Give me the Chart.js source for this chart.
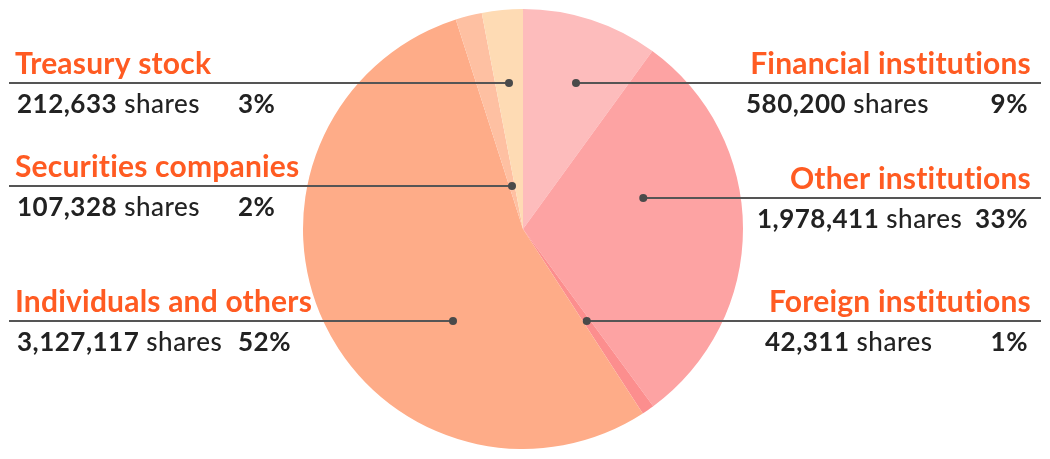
<!DOCTYPE html>
<html>
<head>
<meta charset="utf-8">
<script src="https://cdn.jsdelivr.net/npm/chart.js@4.4.3/dist/chart.umd.min.js"></script>
<style>
  html, body { margin: 0; padding: 0; background: #fff; }
  #wrap { width: 1050px; height: 459px; position: relative; }
</style>
</head>
<body>
<div id="wrap"><canvas id="pie"></canvas></div>
<script>
// shareholder groups, in drawing order (clockwise from 12 o'clock)
const categories = ['Financial institutions', 'Other institutions', 'Foreign institutions', 'Individuals and others', 'Securities companies', 'Treasury stock'];
const shares = [580200, 1978411, 42311, 3127117, 107328, 212633];
const sharePercents = [9, 33, 1, 52, 2, 3];
// slice sizes as drawn in the picture (percent of the circle)
const sliceValues = [10.0, 29.9, 0.92, 54.2, 1.94, 3.0];
const sliceColors = ['#FDBCBC', '#FDA3A3', '#FC8E8E', '#FEAC88', '#FEC0A2', '#FEDBB4'];

// label placement, one entry per category
const labelLayout = [
  { side: 'right', lineY: 83, sharesX: 746 },
  { side: 'right', lineY: 198, sharesX: 757 },
  { side: 'right', lineY: 321, sharesX: 765 },
  { side: 'left', lineY: 321 },
  { side: 'left', lineY: 186 },
  { side: 'left', lineY: 83 }
];

const TITLE_COLOR = '#FF5B22';
const TEXT_COLOR = '#222222';
const LINE_COLOR = '#555555';
const FONT = 'Lato, "Noto Sans", sans-serif';

// middle of the slice's chord along a horizontal line
function chordMid(arc, y) {
  const p = arc.getProps(['x', 'y', 'startAngle', 'endAngle', 'outerRadius'], true);
  const dy = y - p.y;
  let lo = null, hi = null;
  for (let x = p.x - p.outerRadius; x <= p.x + p.outerRadius; x += 0.5) {
    const dx = x - p.x;
    if (dx * dx + dy * dy > p.outerRadius * p.outerRadius) continue;
    let a = Math.atan2(dy, dx);
    while (a < p.startAngle) a += Math.PI * 2;
    while (a >= p.startAngle + Math.PI * 2) a -= Math.PI * 2;
    if (a <= p.endAngle) {
      if (lo === null) lo = x;
      hi = x;
    }
  }
  return lo === null ? p.x : (lo + hi) / 2;
}

const labelPlugin = {
  id: 'leaderLabels',
  afterDatasetsDraw(chart) {
    const ctx = chart.ctx;
    const arcs = chart.getDatasetMeta(0).data;
    ctx.save();
    categories.forEach((name, i) => {
      const lay = labelLayout[i];
      const y = lay.lineY;
      const dotX = chordMid(arcs[i], y);
      const left = lay.side === 'left';

      // leader line + dot
      ctx.strokeStyle = LINE_COLOR;
      ctx.lineWidth = 2;
      ctx.beginPath();
      ctx.moveTo(left ? 9 : dotX, y);
      ctx.lineTo(left ? dotX : 1041, y);
      ctx.stroke();
      ctx.fillStyle = '#4A4A4A';
      ctx.beginPath();
      ctx.arc(dotX, y, 4, 0, Math.PI * 2);
      ctx.fill();

      // title
      ctx.textBaseline = 'alphabetic';
      ctx.fillStyle = TITLE_COLOR;
      ctx.font = 'bold 30px ' + FONT;
      ctx.letterSpacing = '0.2px';
      ctx.textAlign = left ? 'left' : 'right';
      ctx.fillText(name, left ? 15 : 1031, y - 9);

      // shares row
      const rowY = y + 30;
      const num = shares[i].toLocaleString('en-US');
      const sx = left ? 17 : lay.sharesX;
      ctx.textAlign = 'left';
      ctx.fillStyle = TEXT_COLOR;
      ctx.letterSpacing = '0.5px';
      ctx.font = 'bold 26px ' + FONT;
      ctx.fillText(num, sx, rowY);
      const w = ctx.measureText(num).width;
      ctx.font = '500 26px ' + FONT;
      ctx.fillText(' shares', sx + w, rowY);
      ctx.font = 'bold 26px ' + FONT;
      const pct = sharePercents[i] + '%';
      if (left) {
        ctx.fillText(pct, 238, rowY);
      } else {
        ctx.textAlign = 'right';
        ctx.fillText(pct, 1028, rowY);
      }
      ctx.letterSpacing = '0px';
    });
    ctx.restore();
  }
};

new Chart(document.getElementById('pie'), {
  type: 'pie',
  data: {
    labels: categories,
    datasets: [{
      data: sliceValues,
      backgroundColor: sliceColors,
      borderWidth: 0
    }]
  },
  options: {
    responsive: true,
    maintainAspectRatio: false,
    animation: false,
    layout: { padding: { left: 303, right: 307, top: 9, bottom: 10 } },
    plugins: { legend: { display: false }, tooltip: { enabled: false } }
  },
  plugins: [labelPlugin]
});
</script>
</body>
</html>
